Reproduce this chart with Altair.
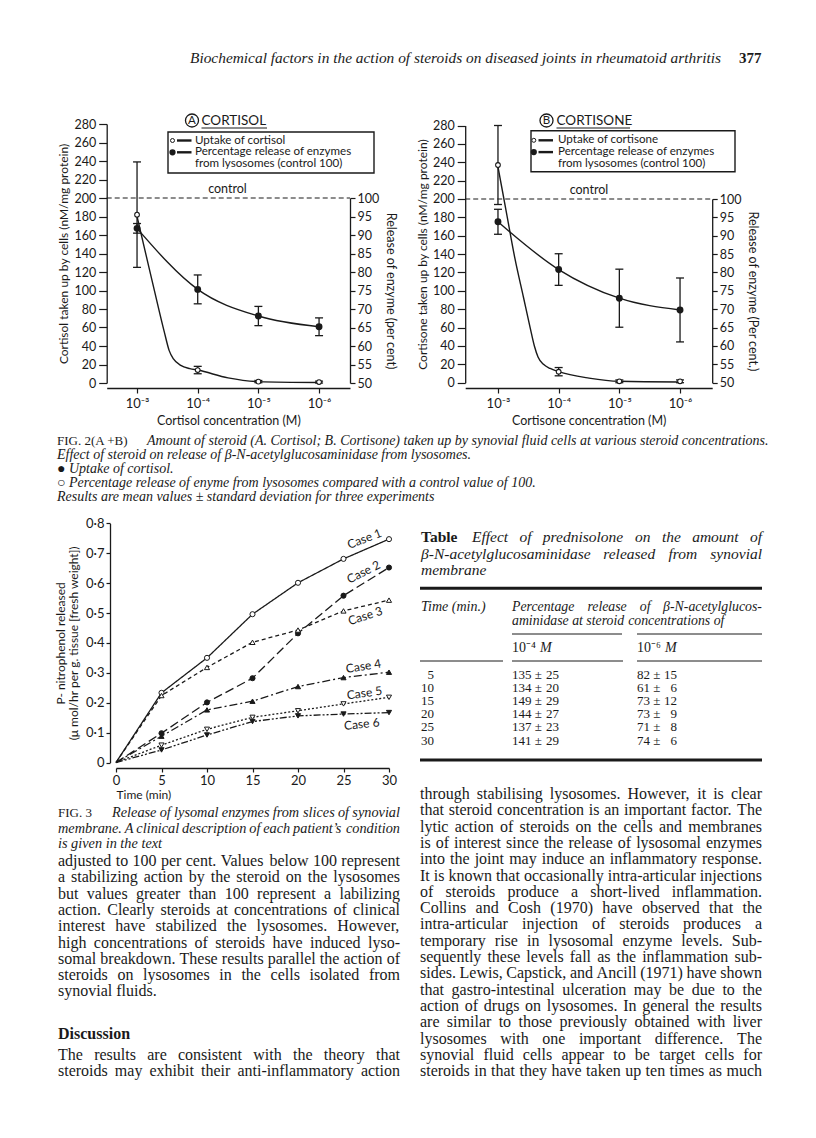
import altair as alt
import pandas as pd

# ----------------------------------------------------------------- page frame
W, H = 800, 1115
OX, OY = 8, 8
SANS = "Lato"
SERIF = "Liberation Serif"
INK = "#1a1a1a"

# ----------------------------------------------------------------- Fig. 2 data
conc_exponent = [3, 4, 5, 6]
conc_tick_labels = ["10⁻³", "10⁻⁴", "10⁻⁵", "10⁻⁶"]
uptake_ticks = [0, 20, 40, 60, 80, 100, 120, 140, 160, 180, 200, 220, 240, 260, 280]
release_ticks = [50, 55, 60, 65, 70, 75, 80, 85, 90, 95, 100]
control_uptake = 200
control_label = "control"

# A  cortisol
cortisol_uptake = [182, 14, 1.5, 1.0]
cortisol_uptake_sd = [57, 4, 1.2, 1.0]
cortisol_release = [91.8, 75.3, 68.1, 65.2]
cortisol_release_sd = [1.3, 3.9, 2.6, 2.4]
cortisol_curve_exponent = [3.0, 3.15, 3.3, 3.45, 3.53, 3.6, 3.72, 3.87, 4.0, 4.5, 5.0, 6.0]
cortisol_curve_uptake = [180, 138, 96, 55, 35, 26, 19, 15.5, 14, 5.5, 1.5, 0.5]

# B  cortisone
cortisone_uptake = [237, 12, 1.5, 1.5]
cortisone_uptake_sd = [43, 4.5, 1.5, 1.5]
cortisone_release = [93.8, 80.8, 73.0, 69.8]
cortisone_release_sd = [3.4, 4.3, 7.9, 8.7]
cortisone_curve_exponent = [3.0, 3.14, 3.28, 3.42, 3.53, 3.6, 3.66, 3.75, 3.86, 4.0, 4.5, 5.0, 6.0]
cortisone_curve_uptake = [235, 185, 135, 93, 60, 40, 28, 20, 15.5, 12, 5, 1.5, 0.8]

# ----------------------------------------------------------------- Fig. 3 data
time_min = [0, 5, 10, 15, 20, 25, 30]
case_names = ["Case 1", "Case 2", "Case 3", "Case 4", "Case 5", "Case 6"]
case1 = [0, 0.233, 0.350, 0.496, 0.601, 0.681, 0.747]
case2 = [0, 0.098, 0.201, 0.282, 0.432, 0.558, 0.652]
case3 = [0, 0.224, 0.318, 0.402, 0.443, 0.507, 0.543]
case4 = [0, 0.088, 0.176, 0.205, 0.254, 0.284, 0.302]
case5 = [0, 0.058, 0.111, 0.151, 0.173, 0.196, 0.218]
case6 = [0, 0.042, 0.092, 0.137, 0.156, 0.162, 0.167]
fig3_time_ticks = [0, 5, 10, 15, 20, 25, 30]
fig3_value_ticks = [0, 0.1, 0.2, 0.3, 0.4, 0.5, 0.6, 0.7, 0.8]
# annotation anchors (time, value, rotation)
case_label_time = [27.3, 27.2, 27.4, 27.2, 27.3, 27.0]
case_label_value = [0.748, 0.637, 0.49, 0.322, 0.232, 0.128]
case_label_angle = [339, 333, 342, 351, 352, 354]

# ----------------------------------------------------------------- table data
table_time = [5, 10, 15, 20, 25, 30]
release_1e4_mean = [135, 134, 149, 144, 137, 141]
release_1e4_sd = [25, 20, 29, 27, 23, 29]
release_1e6_mean = [82, 61, 73, 73, 71, 74]
release_1e6_sd = [15, 6, 12, 9, 8, 6]

# ----------------------------------------------------------------- texts
header_title = "Biochemical factors in the action of steroids on diseased joints in rheumatoid arthritis"
page_number = "377"
fig2_caption_head = "FIG. 2(A +B)"
fig2_caption_first = "Amount of steroid (A. Cortisol; B. Cortisone) taken up by synovial fluid cells at various steroid concentrations."
fig2_caption_rest = [
    "Effect of steroid on release of β-N-acetylglucosaminidase from lysosomes.",
    "● Uptake of cortisol.",
    "○ Percentage release of enyme from lysosomes compared with a control value of 100.",
    "Results are mean values ± standard deviation for three experiments",
]
fig3_caption_head = "FIG. 3"
fig3_caption_first = "Release of lysomal enzymes from slices of synovial"
fig3_caption_rest = [
    "membrane. A clinical description of each patient’s condition",
    "is given in the text",
]
para_left = [
    "adjusted to 100 per cent. Values below 100 represent",
    "a stabilizing action by the steroid on the lysosomes",
    "but values greater than 100 represent a labilizing",
    "action. Clearly steroids at concentrations of clinical",
    "interest have stabilized the lysosomes. However,",
    "high concentrations of steroids have induced lyso-",
    "somal breakdown. These results parallel the action of",
    "steroids on lysosomes in the cells isolated from",
    "synovial fluids.",
]
discussion_heading = "Discussion"
discussion_lines = [
    "The results are consistent with the theory that",
    "steroids may exhibit their anti-inflammatory action",
]
para_right = [
    "through stabilising lysosomes. However, it is clear",
    "that steroid concentration is an important factor. The",
    "lytic action of steroids on the cells and membranes",
    "is of interest since the release of lysosomal enzymes",
    "into the joint may induce an inflammatory response.",
    "It is known that occasionally intra-articular injections",
    "of steroids produce a short-lived inflammation.",
    "Collins and Cosh (1970) have observed that the",
    "intra-articular injection of steroids produces a",
    "temporary rise in lysosomal enzyme levels. Sub-",
    "sequently these levels fall as the inflammation sub-",
    "sides. Lewis, Capstick, and Ancill (1971) have shown",
    "that gastro-intestinal ulceration may be due to the",
    "action of drugs on lysosomes. In general the results",
    "are similar to those previously obtained with liver",
    "lysosomes with one important difference. The",
    "synovial fluid cells appear to be target cells for",
    "steroids in that they have taken up ten times as much",
]
table_head = "Table"
table_caption_first = "Effect of prednisolone on the amount of"
table_caption_rest = ["β-N-acetylglucosaminidase released from synovial", "membrane"]
table_col_time = "Time (min.)"
table_col_group = ["Percentage release of β-N-acetylglucos-", "aminidase at steroid concentrations of"]
table_conc_labels = ["10⁻⁴", "10⁻⁶"]
table_unit = "M"

# ----------------------------------------------------------------- type metrics (Times, per 1000 em)
_R = dict(zip("abcdefghijklmnopqrstuvwxyz",
              [444, 500, 444, 500, 444, 333, 500, 500, 278, 278, 500, 278, 778, 500, 500, 500, 500, 333,
               389, 278, 500, 500, 722, 500, 500, 444]))
_R.update(dict(zip("ABCDEFGHIJKLMNOPQRSTUVWXYZ",
                   [722, 667, 667, 722, 611, 556, 722, 722, 333, 389, 722, 611, 889, 722, 722, 556, 722,
                    667, 556, 611, 722, 722, 944, 722, 722, 611])))
_R.update({" ": 250, ".": 250, ",": 250, "-": 333, "(": 333, ")": 333, ":": 278, ";": 278, "’": 333})
_R.update({d: 500 for d in "0123456789"})
_I = dict(zip("abcdefghijklmnopqrstuvwxyz",
              [500, 500, 444, 500, 444, 278, 500, 500, 278, 278, 444, 278, 722, 500, 500, 500, 500, 389,
               389, 278, 500, 444, 667, 444, 444, 389]))
_I.update(dict(zip("ABCDEFGHIJKLMNOPQRSTUVWXYZ",
                   [611, 611, 667, 722, 611, 611, 722, 722, 333, 444, 667, 556, 833, 667, 722, 611, 722,
                    611, 500, 556, 722, 611, 833, 611, 556, 556])))
_I.update({" ": 250, ".": 250, ",": 250, "-": 333, "(": 333, ")": 333, ":": 333, ";": 333, "’": 333})
_I.update({d: 500 for d in "0123456789"})


def tw(s, table, size):
    return sum(table.get(ch, 500) for ch in s) * size / 1000.0


# ----------------------------------------------------------------- helpers
def px(x):
    return x - OX


def py(y):
    return y - OY


def lin(domain, rng):
    return alt.Scale(domain=list(domain), range=list(rng), zero=False, nice=False)


PAGE_X = lin([0, 800], [px(0), px(800)])


def one():
    return pd.DataFrame({"a": [0]})


def text_block(lines, x, y0, dy, size, font=SERIF, style="normal", weight="normal", align="left"):
    df = pd.DataFrame({"t": list(lines), "i": list(range(len(lines)))})
    return alt.Chart(df).mark_text(
        align=align, baseline="middle", font=font, fontSize=size,
        fontStyle=style, fontWeight=weight, color=INK,
    ).encode(
        x=alt.value(px(x)),
        y=alt.Y("i:Q", scale=lin([0, 1], [py(y0), py(y0 + dy)]), axis=None),
        text=alt.Text("t:N"),
    )


def justified(lines, x0, x1, y0, dy, size, style="normal", last_natural=True):
    """Full-justified lines: word positions are computed from Times metrics."""
    table = _I if style == "italic" else _R
    rows = []
    for i, line in enumerate(lines):
        words = line.split(" ")
        widths = [tw(w, table, size) for w in words]
        nat = 0.25 * size
        if len(words) == 1 or (last_natural and i == len(lines) - 1):
            gap = nat
        else:
            gap = max(0.55 * nat, (x1 - x0 - sum(widths)) / (len(words) - 1))
        x = x0
        for w, wd in zip(words, widths):
            rows.append({"t": w, "i": i, "x": x})
            x += wd + gap
    df = pd.DataFrame(rows)
    return alt.Chart(df).mark_text(
        align="left", baseline="middle", font=SERIF, fontSize=size, fontStyle=style, color=INK,
    ).encode(
        x=alt.X("x:Q", scale=PAGE_X, axis=None),
        y=alt.Y("i:Q", scale=lin([0, 1], [py(y0), py(y0 + dy)]), axis=None),
        text=alt.Text("t:N"),
    )


def hrule(x0, x1, y, width=1.0):
    return alt.Chart(one()).mark_rule(color=INK, strokeWidth=width).encode(
        x=alt.value(px(x0)), x2=alt.value(px(x1)), y=alt.value(py(y)))


def label_expr(vals, labels):
    e = "''"
    for v, l in zip(reversed(vals), reversed(labels)):
        e = f"datum.value == {v} ? '{l}' : ({e})"
    return e


AX = dict(grid=False, domainColor=INK, tickColor=INK, labelColor=INK, titleColor=INK,
          labelFont=SANS, titleFont=SANS, titleFontWeight="normal", labelOverlap=False,
          labelFlush=False, domainWidth=1.3, tickWidth=1.2)


# ----------------------------------------------------------------- Fig. 2 panel
def fig2_panel(P):
    xs = lin(P["xdom"], [px(v) for v in P["xrng"]])
    yl = lin([0, 280], [py(v) for v in P["ylrng"]])
    yr = lin([50, 100], [py(v) for v in P["yrrng"]])
    pts = pd.DataFrame({"n": conc_exponent, "u": P["u"], "usd": P["usd"], "r": P["r"], "rsd": P["rsd"]})
    pts["ulo"] = pts["u"] - pts["usd"]
    pts["uhi"] = pts["u"] + pts["usd"]
    pts["rlo"] = pts["r"] - pts["rsd"]
    pts["rhi"] = pts["r"] + pts["rsd"]
    curve = pd.DataFrame({"n": P["cn"], "v": P["cv"]})
    ctrl = pd.DataFrame({"v": [control_uptake], "label": [control_label]})

    def X(f="n:Q", axis=None):
        return alt.X(f, scale=xs, axis=axis)

    L = []
    L.append(alt.Chart(ctrl).mark_rule(color=INK, strokeWidth=1.1, strokeDash=[5, 3]).encode(
        x=alt.value(px(P["xrng"][0])), x2=alt.value(px(P["xrng"][1])),
        y=alt.Y("v:Q", scale=yl, axis=None)))
    L.append(alt.Chart(ctrl).mark_text(font=SANS, fontSize=12.5, baseline="bottom", dy=-2, color=INK).encode(
        x=alt.value(px(P["ctrl_x"])), y=alt.Y("v:Q", scale=yl, axis=None), text="label:N"))
    # curves
    L.append(alt.Chart(curve).mark_line(interpolate="monotone", color=INK, strokeWidth=1.4).encode(
        x=X(), y=alt.Y("v:Q", scale=yl, axis=None)))
    L.append(alt.Chart(pts).mark_line(interpolate="monotone", color=INK, strokeWidth=1.4).encode(
        x=X(), y=alt.Y("r:Q", scale=yr, axis=None)))
    # error bars
    for lo, hi, sc in (("ulo", "uhi", yl), ("rlo", "rhi", yr)):
        L.append(alt.Chart(pts).mark_rule(color=INK, strokeWidth=1.3).encode(
            x=X(), y=alt.Y(f"{lo}:Q", scale=sc, axis=None), y2=alt.Y2(f"{hi}:Q")))
        for end in (lo, hi):
            L.append(alt.Chart(pts).mark_rule(color=INK, strokeWidth=1.3, xOffset=-4, x2Offset=4).encode(
                x=X(), x2=alt.X2("n:Q"), y=alt.Y(f"{end}:Q", scale=sc, axis=None)))
    # points + axes
    ax_x = alt.Axis(orient="bottom", offset=py(P["xaxis_y"]) - H, values=conc_exponent,
                    labelExpr=label_expr(conc_exponent, conc_tick_labels), title=P["xtitle"],
                    tickSize=5, labelPadding=4, titlePadding=4, labelFontSize=13, titleFontSize=12.5, **AX)
    ax_yl = alt.Axis(orient="left", offset=-px(P["xrng"][0]), values=uptake_ticks, title=P["yltitle"],
                     tickSize=8, labelPadding=3, titlePadding=3, labelFontSize=12.5, titleFontSize=12, **AX)
    ax_yr = alt.Axis(orient="right", offset=px(P["xrng"][1]) - W, values=release_ticks, title=P["yrtitle"],
                     tickSize=5, labelPadding=2, titlePadding=5, labelFontSize=12.5, titleFontSize=12.5, **AX)
    L.append(alt.Chart(pts).mark_point(shape="circle", filled=True, fill="white", stroke=INK,
                                       strokeWidth=1.1, size=22, opacity=1).encode(
        x=X(axis=ax_x), y=alt.Y("u:Q", scale=yl, axis=ax_yl)))
    L.append(alt.Chart(pts).mark_point(shape="circle", filled=True, fill=INK, stroke=INK,
                                       size=24, opacity=1).encode(
        x=X(), y=alt.Y("r:Q", scale=yr, axis=ax_yr)))
    # legend box
    bx0, bx1, by0, by1 = P["box"]
    L.append(alt.Chart(one()).mark_rect(fill="white", stroke=INK, strokeWidth=1.4).encode(
        x=alt.value(px(bx0)), x2=alt.value(px(bx1)), y=alt.value(py(by0)), y2=alt.value(py(by1))))
    L.append(text_block(P["legend"], P["leg_text_x"], P["leg_y0"], P["leg_dy"], 11.6, font=SANS))
    rows = pd.DataFrame({"i": [0, 1]})
    yrow = alt.Y("i:Q", scale=lin([0, 1], [py(P["leg_y0"]), py(P["leg_y0"] + P["leg_dy"])]), axis=None)
    L.append(alt.Chart(rows).mark_rule(color=INK, strokeWidth=2.4).encode(
        x=alt.value(px(P["leg_dash"][0])), x2=alt.value(px(P["leg_dash"][1])), y=yrow))
    L.append(alt.Chart(rows.iloc[:1]).mark_point(shape="circle", filled=True, fill="white", stroke=INK,
                                                 strokeWidth=1, size=16, opacity=1).encode(
        x=alt.value(px(P["leg_sym_x"])), y=yrow))
    L.append(alt.Chart(rows.iloc[1:]).mark_point(shape="circle", filled=True, fill=INK, stroke=INK,
                                                 size=18, opacity=1).encode(
        x=alt.value(px(P["leg_sym_x"])), y=yrow))
    # panel title: circled letter + underlined name
    L.append(alt.Chart(one()).mark_point(shape="circle", stroke=INK, strokeWidth=1.3, size=170,
                                         filled=False, opacity=1).encode(
        x=alt.value(px(P["circ_x"])), y=alt.value(py(P["title_y"]))))
    L.append(alt.Chart(pd.DataFrame({"t": [P["letter"]]})).mark_text(
        font=SANS, fontSize=11.5, align="center", baseline="middle", color=INK).encode(
        x=alt.value(px(P["circ_x"])), y=alt.value(py(P["title_y"]) + 0.5), text="t:N"))
    L.append(alt.Chart(pd.DataFrame({"t": [P["name"]]})).mark_text(
        font=SANS, fontSize=13.5, align="left", baseline="middle", color=INK).encode(
        x=alt.value(px(P["name_x"])), y=alt.value(py(P["title_y"])), text="t:N"))
    L.append(hrule(P["name_x"], P["name_x1"], P["title_y"] + 7.5, 1.2))
    return L


panelA = dict(
    xdom=[2.5, 6.51], xrng=[106.7, 350.0], ylrng=[383, 124], yrrng=[383, 198], xaxis_y=388,
    u=cortisol_uptake, usd=cortisol_uptake_sd, r=cortisol_release, rsd=cortisol_release_sd,
    cn=cortisol_curve_exponent, cv=cortisol_curve_uptake,
    xtitle="Cortisol concentration (M)", yltitle="Cortisol taken up by cells (nM/mg protein)",
    yrtitle="Release of enzyme (per cent)", ctrl_x=227.5,
    box=[168, 374, 132, 173], legend=["Uptake of cortisol", "Percentage release of enzymes",
                                      "from lysosomes (control 100)"],
    leg_text_x=195, leg_y0=140.5, leg_dy=11.8, leg_dash=[177, 191.5], leg_sym_x=172.5,
    circ_x=192, title_y=120.5, letter="A", name="CORTISOL", name_x=201.5, name_x1=267,
)
panelB = dict(
    xdom=[2.46, 6.53], xrng=[465.2, 712.2], ylrng=[382.7, 125.5], yrrng=[382.7, 199], xaxis_y=388,
    u=cortisone_uptake, usd=cortisone_uptake_sd, r=cortisone_release, rsd=cortisone_release_sd,
    cn=cortisone_curve_exponent, cv=cortisone_curve_uptake,
    xtitle="Cortisone concentration (M)", yltitle="Cortisone taken up by cells (nM/mg protein)",
    yrtitle="Release of enzyme (Per cent.)", ctrl_x=589,
    box=[531, 735, 130.7, 171.7], legend=["Uptake of cortisone", "Percentage release of enzymes",
                                          "from lysosomes (control 100)"],
    leg_text_x=558, leg_y0=140.3, leg_dy=11.8, leg_dash=[538.5, 553], leg_sym_x=533.8,
    circ_x=546.5, title_y=120.5, letter="B", name="CORTISONE", name_x=556.5, name_x1=630,
)

layers = []
layers += fig2_panel(panelA)
layers += fig2_panel(panelB)

# ----------------------------------------------------------------- Fig. 3
f3x = lin([0, 30], [px(116), px(389)])
f3y = lin([0, 0.8], [py(762.5), py(523.3)])
series = [case1, case2, case3, case4, case5, case6]
long = pd.DataFrame([
    {"case": c, "t": t, "v": v}
    for c, vals in zip(case_names, series) for t, v in zip(time_min, vals)
])
dash_scale = alt.Scale(domain=case_names,
                       range=[[1, 0], [9, 4], [4, 3], [8, 3, 2, 3], [2, 2], [7, 2, 2, 2, 2, 2]])
layers.append(alt.Chart(long).mark_line(color=INK, strokeWidth=1.3).encode(
    x=alt.X("t:Q", scale=f3x, axis=None), y=alt.Y("v:Q", scale=f3y, axis=None),
    strokeDash=alt.StrokeDash("case:N", scale=dash_scale, legend=None),
    order=alt.Order("t:Q")))
ax3x = alt.Axis(orient="bottom", offset=py(768) - H, values=fig3_time_ticks, title="Time (min)",
                titleAnchor="start", titleAlign="left", tickSize=4, labelPadding=2, titlePadding=2,
                labelFontSize=13, titleFontSize=12, **AX)
ax3y = alt.Axis(orient="left", offset=-px(110), values=fig3_value_ticks,
                labelExpr="datum.value == 0 ? '0' : replace(format(datum.value, '.1f'), '.', '·')",
                title=["P- nitrophenol released", "(μ mol/hr per g. tissue [fresh weight])"],
                titleLineHeight=13, tickSize=4, labelPadding=2, titlePadding=5,
                labelFontSize=13, titleFontSize=12, **AX)
layers.append(alt.Chart(long[long["t"] > 0]).mark_point(filled=True, stroke=INK, strokeWidth=1,
                                                      size=26, opacity=1).encode(
    x=alt.X("t:Q", scale=f3x, axis=ax3x), y=alt.Y("v:Q", scale=f3y, axis=ax3y),
    shape=alt.Shape("case:N", scale=alt.Scale(domain=case_names, range=[
        "circle", "circle", "triangle-up", "triangle-up", "triangle-down", "triangle-down"]), legend=None),
    fill=alt.Fill("case:N", scale=alt.Scale(domain=case_names, range=[
        "white", INK, "white", INK, "white", INK]), legend=None)))
lab = pd.DataFrame({"case": case_names, "t": case_label_time, "v": case_label_value, "ang": case_label_angle})
layers.append(alt.Chart(lab).mark_text(font=SANS, fontSize=12, align="center", baseline="middle",
                                       color=INK).encode(
    x=alt.X("t:Q", scale=f3x, axis=None), y=alt.Y("v:Q", scale=f3y, axis=None),
    angle=alt.Angle("ang:Q", scale=None), text="case:N"))

# ----------------------------------------------------------------- Table
ROW_DY = 13.1
ROW_FS = 13
layers.append(text_block([table_head], 421, 537, 16.5, 15.5, weight="bold"))
layers.append(justified([table_caption_first], 472, 762, 537, 16.5, 15.5, style="italic", last_natural=False))
layers.append(justified(table_caption_rest, 421, 762, 553.5, 16.5, 15.5, style="italic"))
layers.append(hrule(420, 762, 588.3, 3))
layers.append(text_block([table_col_time], 421, 607, 13.5, 14, style="italic"))
layers.append(justified(table_col_group, 512, 762, 607, 13.8, 13.8, style="italic"))
layers.append(hrule(512, 622, 634, 1))
layers.append(hrule(637, 762, 634, 1))
layers.append(text_block([table_conc_labels[0]], 512, 648, 13, 14))
layers.append(text_block([table_unit], 540, 648, 13, 14, style="italic"))
layers.append(text_block([table_conc_labels[1]], 637, 648, 13, 14))
layers.append(text_block([table_unit], 665, 648, 13, 14, style="italic"))
layers.append(hrule(420, 503, 661, 1))
layers.append(hrule(512, 623, 661, 1))
layers.append(hrule(637, 762, 661, 1))
layers.append(text_block([str(t) for t in table_time], 434, 675, ROW_DY, ROW_FS, align="right"))
layers.append(text_block([f"{m} ±" for m in release_1e4_mean], 512, 675, ROW_DY, ROW_FS))
layers.append(text_block([str(s) for s in release_1e4_sd], 559, 675, ROW_DY, ROW_FS, align="right"))
layers.append(text_block([f"{m} ±" for m in release_1e6_mean], 637, 675, ROW_DY, ROW_FS))
layers.append(text_block([str(s) for s in release_1e6_sd], 677, 675, ROW_DY, ROW_FS, align="right"))
layers.append(hrule(420, 762, 760, 3))

# ----------------------------------------------------------------- page text
layers.append(text_block([header_title], 190, 58, 16, 15.4, style="italic"))
layers.append(text_block([page_number], 739, 58, 16, 15, weight="bold"))
layers.append(text_block([fig2_caption_head], 57, 441, 14, 13))
layers.append(text_block([fig2_caption_first], 147, 441, 14, 14, style="italic"))
layers.append(text_block(fig2_caption_rest, 57, 455, 14, 14, style="italic"))
layers.append(text_block([fig3_caption_head], 58, 813.3, 15, 13))
layers.append(justified([fig3_caption_first], 112, 400, 813.3, 15, 14.3, style="italic", last_natural=False))
layers.append(justified(fig3_caption_rest, 58, 400, 828.8, 14.8, 14.3, style="italic"))
layers.append(justified(para_left, 58, 400, 861, 16.3, 16))
layers.append(text_block([discussion_heading], 58, 1034, 16, 16, weight="bold"))
layers.append(justified(discussion_lines, 58, 400, 1055, 16.3, 16, last_natural=False))
layers.append(justified(para_right, 420, 762, 794, 16.3, 16, last_natural=False))

chart = alt.layer(*layers).resolve_scale(
    x="independent", y="independent"
).properties(
    width=W, height=H, padding=0, background="white",
    autosize=alt.AutoSizeParams(type="none"),
).configure_view(stroke=None)

chart.save("out.html", embed_options={"renderer": "svg", "actions": False})
